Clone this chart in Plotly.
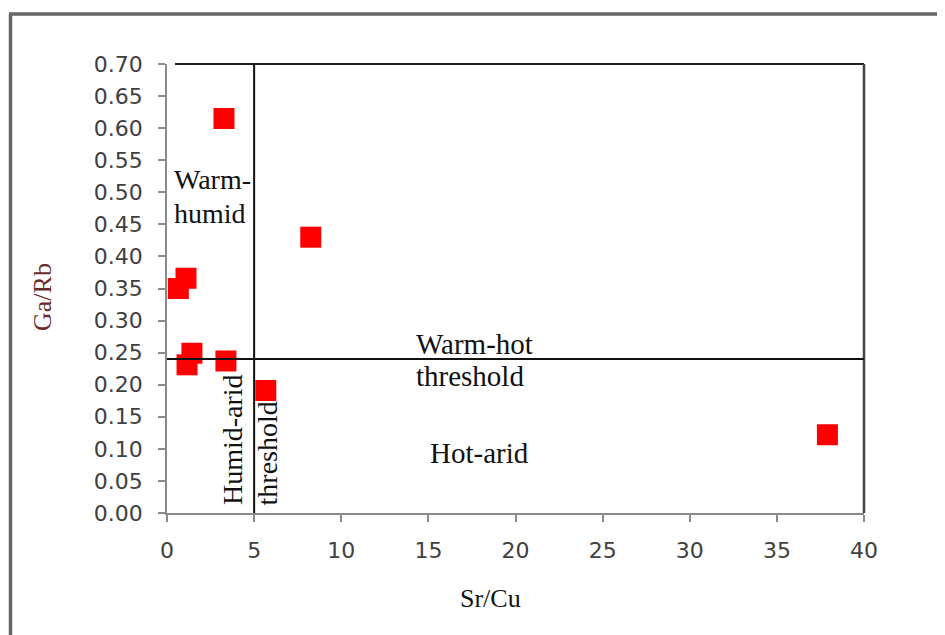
import plotly.graph_objects as go

# Data
sr_cu = [3.27, 8.25, 1.09, 0.65, 1.43, 1.15, 3.38, 5.67, 37.9]
ga_rb = [0.615, 0.430, 0.366, 0.350, 0.249, 0.231, 0.237, 0.191, 0.122]

x_ticks = [0, 5, 10, 15, 20, 25, 30, 35, 40]
y_ticks = [0.00, 0.05, 0.10, 0.15, 0.20, 0.25, 0.30, 0.35, 0.40, 0.45, 0.50, 0.55, 0.60, 0.65, 0.70]

humid_arid_threshold = 5
warm_hot_threshold = 0.24

# page adds an 8px body margin; compensate
OFF = 8
W, H = 945 - OFF, 635 - OFF
L, R, T, B = 167 - OFF, 81, 64 - OFF, 122
PW, PH = W - L - R, H - T - B

def px_x(p):
    return (p - OFF - L) / PW

def px_y(p):
    return (H - B - (p - OFF)) / PH

SERIF = "Liberation Serif"
SANS = "DejaVu Sans"

fig = go.Figure()
fig.add_trace(go.Scatter(
    x=sr_cu, y=ga_rb, mode="markers",
    marker=dict(symbol="square", size=21, color="#ff0000", line=dict(width=0)),
    cliponaxis=False, showlegend=False,
))

shapes = [
    # outer frame
    dict(type="line", xref="paper", yref="paper", x0=px_x(10.5), x1=px_x(10.5), y0=px_y(14), y1=px_y(645),
         line=dict(color="#666666", width=3.5)),
    dict(type="line", xref="paper", yref="paper", x0=px_x(9), x1=px_x(960), y0=px_y(14), y1=px_y(14),
         line=dict(color="#666666", width=3.5)),
    # top and right box lines
    dict(type="line", xref="paper", yref="paper", x0=px_x(175), x1=1.0, y0=1.0, y1=1.0,
         line=dict(color="#222222", width=2)),
    dict(type="line", xref="paper", yref="paper", x0=1.0, x1=1.0, y0=0, y1=1.0,
         line=dict(color="#444444", width=2.5)),
    # thresholds
    dict(type="line", xref="x", yref="paper", x0=humid_arid_threshold, x1=humid_arid_threshold, y0=0, y1=1.0,
         line=dict(color="#111111", width=2)),
    dict(type="line", xref="paper", yref="y", x0=0, x1=1.0, y0=warm_hot_threshold, y1=warm_hot_threshold,
         line=dict(color="#111111", width=2)),
]

def ann(text, x, y, xanchor="left", yanchor="middle", angle=0, size=28, color="#111111",
        xref="x", yref="y"):
    return dict(text=text, x=x, y=y, xref=xref, yref=yref, xanchor=xanchor, yanchor=yanchor,
                textangle=angle, showarrow=False, font=dict(family=SERIF, size=size, color=color))

annotations = [
    ann("Warm-", 0.29, 0.5207),
    ann("humid", 0.29, 0.4677),
    ann("Warm-hot", 14.15, 0.2635, size=29),
    ann("threshold", 14.15, 0.2136, size=29),
    ann("Hot-arid", 15.0, 0.0935, size=29),
    ann("Humid-arid", 3.75, 0.009, xanchor="center", yanchor="bottom", angle=-90),
    ann("threshold", 5.75, 0.009, xanchor="center", yanchor="bottom", angle=-90),
    ann("Sr/Cu", px_x(490), px_y(598), xanchor="center", xref="paper", yref="paper", size=26),
    ann("Ga/Rb", px_x(42), px_y(297), xanchor="center", xref="paper", yref="paper", size=26,
        angle=-90, color="#6b2a2a"),
]

axis_common = dict(
    showgrid=False, zeroline=False, showline=True, linecolor="#8a8a8a", linewidth=1.5,
    ticks="outside", ticklen=7, tickwidth=1.5, tickcolor="#8a8a8a",
    tickfont=dict(family=SANS, size=22, color="#404040"),
)

fig.update_layout(
    width=W, height=H,
    margin=dict(l=L, r=R, t=T, b=B),
    paper_bgcolor="white", plot_bgcolor="white",
    xaxis=dict(range=[0, 40], tickvals=x_ticks, ticktext=[str(v) for v in x_ticks],
               ticklabelstandoff=10, **axis_common),
    yaxis=dict(range=[0, 0.70], tickvals=y_ticks, ticktext=[f"{v:.2f}" for v in y_ticks],
               ticklabelstandoff=11, **axis_common),
    shapes=shapes,
    annotations=annotations,
)

fig.write_html("out.html")
